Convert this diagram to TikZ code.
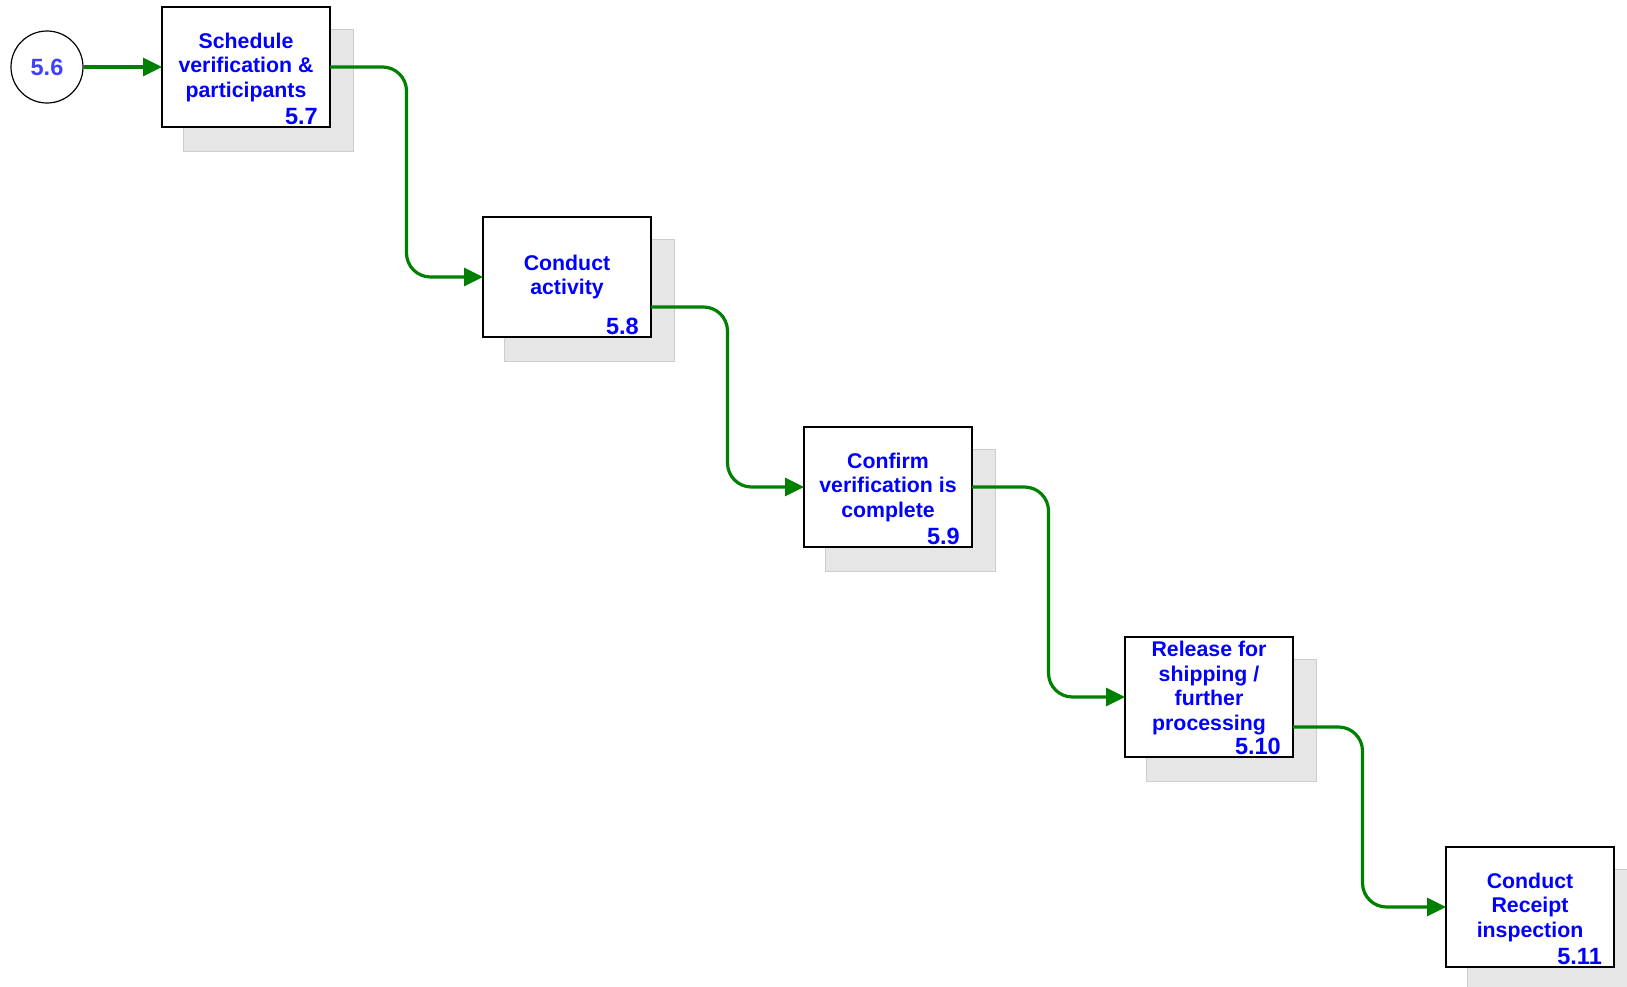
\documentclass[tikz,border=0pt]{standalone}
\usepackage{fontspec}
\setmainfont{Liberation Sans}
\usetikzlibrary{arrows.meta,calc}
\definecolor{fgreen}{RGB}{0,128,0}
\definecolor{tblue}{RGB}{0,0,255}
\definecolor{cblue}{RGB}{64,64,255}
\definecolor{shad}{RGB}{230,230,230}
\definecolor{shadedge}{RGB}{205,205,205}
\begin{document}
\begin{tikzpicture}[x=1pt,y=-1pt,
 proc/.style={draw=black,line width=1.4pt,fill=white,minimum width=168pt,minimum height=120pt,inner sep=0pt,outer sep=0pt},
 shadowbox/.style={fill=shad,draw=shadedge,line width=0.8pt,minimum width=170pt,minimum height=122pt,inner sep=0pt},
 lbl/.style={text=tblue,font=\fontsize{21.3}{24.5}\selectfont\bfseries,align=center,inner sep=0pt},
 num/.style={text=tblue,font=\fontsize{23.5}{26}\selectfont\bfseries,anchor=base east,inner sep=0pt},
 conn/.style={draw=fgreen,line width=3.2pt,rounded corners=24pt,-{Triangle[length=19pt,width=18pt]}},
 startc/.style={circle,draw=black,line width=1.2pt,minimum size=72pt,inner sep=0pt,text=cblue,font=\fontsize{23.5}{26}\selectfont\bfseries},
]
\useasboundingbox (0,0) rectangle (1627,986);
% shadows
\node[shadowbox] (s57) at (268,90) {};
\node[shadowbox] (s58) at (589,300) {};
\node[shadowbox] (s59) at (910,510) {};
\node[shadowbox] (s510) at (1231,720) {};
\node[shadowbox] (s511) at (1552,930) {};
% boxes
\node[proc] (b57) at (246,67) {};
\node[proc] (b58) at (567,277) {};
\node[proc] (b59) at (888,487) {};
\node[proc] (b510) at (1209,697) {};
\node[proc] (b511) at (1530,907) {};
% texts
\node[lbl] (t57) at (b57) {Schedule\\verification \&\\participants};
\node[lbl] (t58) at (b58) {Conduct\\activity};
\node[lbl] (t59) at (b59) {Confirm\\verification is\\complete};
\node[lbl] (t510) at ([yshift=9pt]b510.center) {Release for\\shipping /\\further\\processing};
\node[lbl] (t511) at (b511) {Conduct\\Receipt\\inspection};
% numbers
\node[num] (n57) at ([xshift=-12pt,yshift=3pt]b57.south east) {5.7};
\node[num] (n58) at ([xshift=-12pt,yshift=3pt]b58.south east) {5.8};
\node[num] (n59) at ([xshift=-12pt,yshift=3pt]b59.south east) {5.9};
\node[num] (n510) at ([xshift=-12pt,yshift=3pt]b510.south east) {5.10};
\node[num] (n511) at ([xshift=-12pt,yshift=3pt]b511.south east) {5.11};
% start
\node[startc] (c56) at (47,67) {5.6};
% connectors
\draw[conn] (c56.east) -- (b57.west);
\coordinate (m1) at ($(b57.east)!0.5!(b58.west)$);
\coordinate (m2) at ($(b58.east)!0.5!(b59.west)$);
\coordinate (m3) at ($(b59.east)!0.5!(b510.west)$);
\coordinate (m4) at ($(b510.east)!0.5!(b511.west)+(-7,0)$);
\draw[conn] (b57.east) -- (b57.east -| m1) -- (m1 |- b58.west) -- (b58.west);
\coordinate (e58) at ([yshift=-30pt]b58.east);
\draw[conn] (e58) -- (e58 -| m2) -- (m2 |- b59.west) -- (b59.west);
\draw[conn] (b59.east) -- (b59.east -| m3) -- (m3 |- b510.west) -- (b510.west);
\coordinate (e510) at ([yshift=-30pt]b510.east);
\draw[conn] (e510) -- (e510 -| m4) -- (m4 |- b511.west) -- (b511.west);
\end{tikzpicture}
\end{document}
